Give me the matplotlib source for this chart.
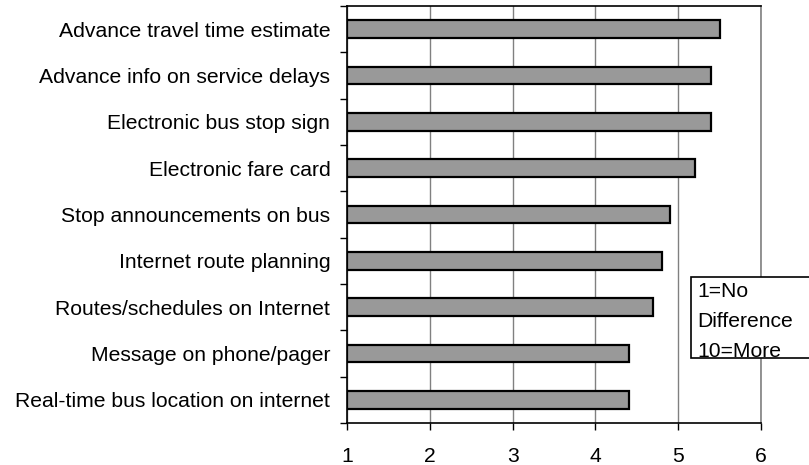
import matplotlib
matplotlib.use("Agg")
import matplotlib.pyplot as plt
from matplotlib.patches import Rectangle

plt.rcParams['font.family'] = ['Liberation Sans', 'DejaVu Sans']

categories = [
    "Advance travel time estimate",
    "Advance info on service delays",
    "Electronic bus stop sign",
    "Electronic fare card",
    "Stop announcements on bus",
    "Internet route planning",
    "Routes/schedules on Internet",
    "Message on phone/pager",
    "Real-time bus location on internet",
]
values = [5.5, 5.4, 5.4, 5.2, 4.9, 4.8, 4.7, 4.4, 4.4]
x_ticks = [1, 2, 3, 4, 5, 6]
note_lines = ["1=No", "Difference", "10=More"]

FS = 15.2
W, H = 809, 465
fig = plt.figure(figsize=(W / 100, H / 100), dpi=100)
ax = fig.add_axes([347 / W, 1 - 423 / H, (761 - 347) / W, (423 - 6) / H])

n = len(categories)
ypos = [n - 1 - i for i in range(n)]
ax.barh(ypos, [v - 1 for v in values], left=1, height=0.38,
        color="#999999", edgecolor="black", linewidth=1.6, zorder=3)

ax.set_xlim(1, 6)
ax.set_ylim(-0.5, n - 0.5)
ax.set_xticks(x_ticks)
ax.set_xticklabels([str(t) for t in x_ticks], fontsize=FS)
ax.xaxis.grid(True, color="#808080", linewidth=1.0, zorder=0)

# category labels centred on bars, tick marks on category boundaries
ax.set_yticks(ypos)
ax.set_yticklabels(categories, fontsize=FS)
ax.tick_params(axis='y', length=0, pad=12)
ax.set_yticks([i - 0.5 for i in range(n + 1)], minor=True)
ax.tick_params(axis='y', which='minor', length=5, width=1, color='black', direction='out')
ax.tick_params(axis='x', length=5, width=1, direction='out', pad=12, color='black')

for side in ("left", "bottom", "top"):
    ax.spines[side].set_color("black")
    ax.spines[side].set_linewidth(1.2)
ax.spines["right"].set_color("#808080")
ax.spines["right"].set_linewidth(1.2)

# scale note box at the right edge
bx0, by0, bx1, by1 = 691 / W, 1 - 358 / H, 812 / W, 1 - 277 / H
box = Rectangle((bx0, by0), bx1 - bx0, by1 - by0, transform=fig.transFigure,
                facecolor="white", edgecolor="black", linewidth=1.2, zorder=10)
fig.patches.append(box)
for k, line in enumerate(note_lines):
    t = fig.text(697 / W, 1 - (297 + 30 * k) / H, line, fontsize=FS,
                 ha="left", va="baseline", zorder=11)
    t.set_clip_path(box)

fig.savefig("out.png", dpi=100)
